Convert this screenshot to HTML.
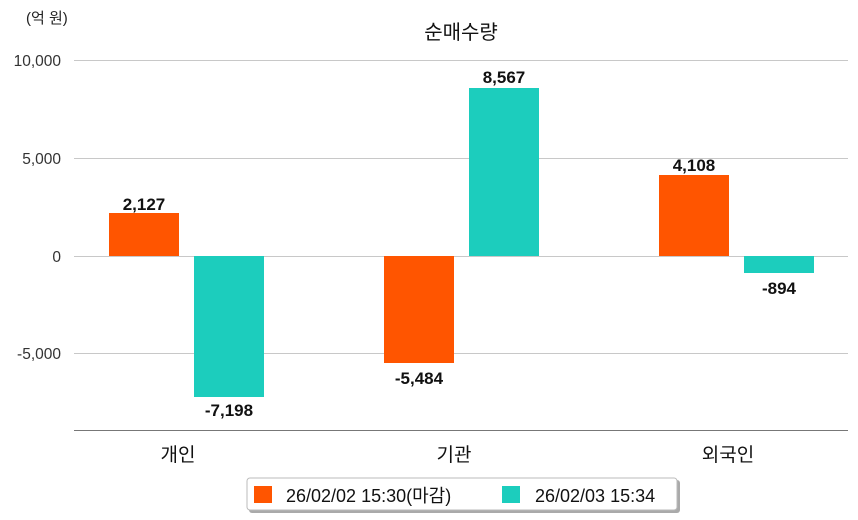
<!DOCTYPE html>
<html><head><meta charset="utf-8"><style>
body{margin:0;background:#fff}
svg{display:block;font-family:"Liberation Sans","Noto Sans CJK KR",sans-serif}
</style></head><body>
<svg width="858" height="520" viewBox="0 0 858 520">
<text x="26" y="23" font-size="15" fill="#222">(억 원)</text>
<text x="461" y="39" font-size="20" fill="#111" text-anchor="middle">순매수량</text>
<g stroke="#c8c8c8" stroke-width="1">
<line x1="74" y1="60.5" x2="848" y2="60.5"/>
<line x1="74" y1="158.5" x2="848" y2="158.5"/>
<line x1="74" y1="256.5" x2="848" y2="256.5"/>
<line x1="74" y1="353.5" x2="848" y2="353.5"/>
</g>
<line x1="74" y1="430.5" x2="848" y2="430.5" stroke="#777" stroke-width="1"/>
<g font-size="15.5" fill="#333" text-anchor="end">
<text x="61" y="66">10,000</text>
<text x="61" y="164">5,000</text>
<text x="61" y="262">0</text>
<text x="61" y="359">-5,000</text>
</g>
<g fill="#ff5500">
<rect x="109" y="213" width="70" height="43"/>
<rect x="384" y="256" width="70" height="107"/>
<rect x="659" y="175" width="70" height="81"/>
</g>
<g fill="#1ccdbd">
<rect x="194" y="256" width="70" height="141"/>
<rect x="469" y="88" width="70" height="168"/>
<rect x="744" y="256" width="70" height="17"/>
</g>
<g font-size="17" font-weight="bold" fill="#111" text-anchor="middle">
<text x="144" y="210">2,127</text>
<text x="229" y="416">-7,198</text>
<text x="419" y="384">-5,484</text>
<text x="504" y="83">8,567</text>
<text x="694" y="171">4,108</text>
<text x="779" y="294">-894</text>
</g>
<g font-size="19" fill="#111" text-anchor="middle">
<text x="178" y="461">개인</text>
<text x="454" y="461">기관</text>
<text x="728" y="461">외국인</text>
</g>
<rect x="249" y="480" width="431" height="33" rx="3" fill="#aaa"/>
<rect x="247" y="478" width="430" height="32" rx="3" fill="#fff" stroke="#bbb"/>
<rect x="254" y="486" width="18" height="17" fill="#ff5500"/>
<text x="286" y="502" font-size="18" fill="#111">26/02/02 15:30(마감)</text>
<rect x="502" y="486" width="18" height="17" fill="#1ccdbd"/>
<text x="535" y="502" font-size="18" fill="#111">26/02/03 15:34</text>
</svg>
</body></html>
